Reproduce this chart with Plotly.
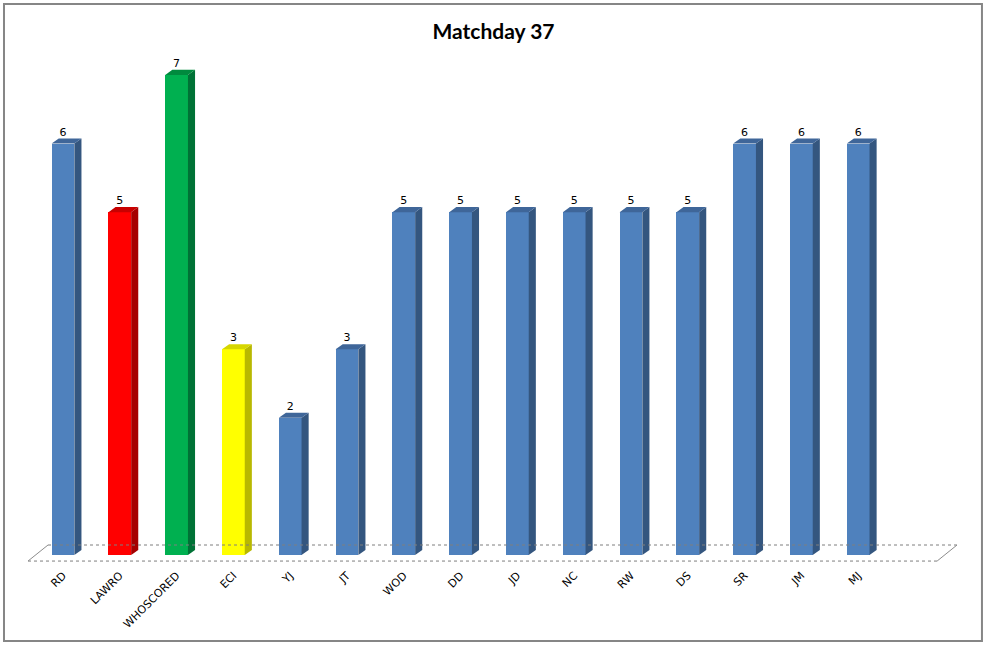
import plotly.graph_objects as go

# Matchday 37 scores
players = ['RD', 'LAWRO', 'WHOSCORED', 'ECI', 'YJ', 'JT', 'WOD', 'DD', 'JD', 'NC',
           'RW', 'DS', 'SR', 'JM', 'MJ']
points = [6, 5, 7, 3, 2, 3, 5, 5, 5, 5, 5, 5, 6, 6, 6]

# highlighted players, everybody else is blue
highlight = {'LAWRO': 'red', 'WHOSCORED': 'green', 'ECI': 'yellow'}

palette = {
    'blue':   dict(front='#4F81BD', side='#34567F', top='#3F6699'),
    'red':    dict(front='#FF0000', side='#A50000', top='#C80000'),
    'green':  dict(front='#00B050', side='#007236', top='#008A3E'),
    'yellow': dict(front='#FFFF00', side='#B8B800', top='#D6D600'),
}

W = 0.2      # half width of the front face
DX = 0.125   # fake 3d depth
DY = 0.075

xs = list(range(len(players)))
kinds = [highlight.get(p, 'blue') for p in players]

fig = go.Figure()

# side + top faces, grouped by colour
for kind, cols in palette.items():
    sx, sy, tx, ty = [], [], [], []
    for i, v, k in zip(xs, points, kinds):
        if k != kind:
            continue
        sx += [i + W, i + W + DX, i + W + DX, i + W, i + W, None]
        sy += [0, DY, v + DY, v, 0, None]
        tx += [i - W, i + W, i + W + DX, i - W + DX, i - W, None]
        ty += [v, v, v + DY, v + DY, v, None]
    if not sx:
        continue
    fig.add_trace(go.Scatter(x=sx, y=sy, fill='toself', mode='lines', fillcolor=cols['side'],
                             line=dict(width=0, color=cols['side']), hoverinfo='skip', showlegend=False))
    fig.add_trace(go.Scatter(x=tx, y=ty, fill='toself', mode='lines', fillcolor=cols['top'],
                             line=dict(width=0, color=cols['top']), hoverinfo='skip', showlegend=False))

# front faces
fig.add_trace(go.Bar(x=xs, y=points, width=2 * W,
                     marker=dict(color=[palette[k]['front'] for k in kinds], line=dict(width=0)),
                     showlegend=False))

# value labels
fig.add_trace(go.Scatter(x=xs, y=[v + DY for v in points], mode='text',
                         text=[str(v) for v in points], textposition='top center',
                         textfont=dict(family='DejaVu Sans', size=11, color='black'),
                         hoverinfo='skip', showlegend=False))

# floor of the 3d plot (dotted)
floor = dict(color='#7F7F7F', width=1, dash='dot')
shapes = [
    dict(type='line', xref='x', yref='y', x0=-0.264, y0=0.146, x1=15.74, y1=0.146, line=floor),
    dict(type='line', xref='x', yref='y', x0=-0.616, y0=-0.088, x1=15.39, y1=-0.088, line=floor),
    dict(type='line', xref='x', yref='y', x0=-0.616, y0=-0.088, x1=-0.264, y1=0.146,
         line=dict(color='#8C8C8C', width=1)),
    dict(type='line', xref='x', yref='y', x0=15.39, y0=-0.088, x1=15.74, y1=0.146,
         line=dict(color='#8C8C8C', width=1)),
    # outer chart border
    dict(type='rect', xref='paper', yref='paper', x0=-0.0169, y0=-0.1426, x1=1.0158, y1=1.0684,
         line=dict(color='#868686', width=2), layer='below'),
]

fig.update_layout(
    width=987, height=648,
    margin=dict(l=20, r=20, t=40, b=82),
    paper_bgcolor='white', plot_bgcolor='white',
    title=dict(text='<b>Matchday 37</b>', x=0.5, xanchor='center', y=0.951, yanchor='middle',
               font=dict(family='Lato', size=21, color='black')),
    xaxis=dict(range=[-0.757, 15.916], tickmode='array', tickvals=xs, ticktext=players,
               tickangle=-45, ticks='', showgrid=False, zeroline=False, showline=False,
               tickfont=dict(family='DejaVu Sans', size=11, color='black')),
    yaxis=dict(range=[-0.16, 7.51], visible=False, showgrid=False, zeroline=False),
    shapes=shapes,
    bargap=0,
)

# the page has a default 8px body margin, drop it so the chart sits at 0,0
fig.write_html('out.html', config={'displayModeBar': False},
               post_script="document.body.style.margin='0px';")
